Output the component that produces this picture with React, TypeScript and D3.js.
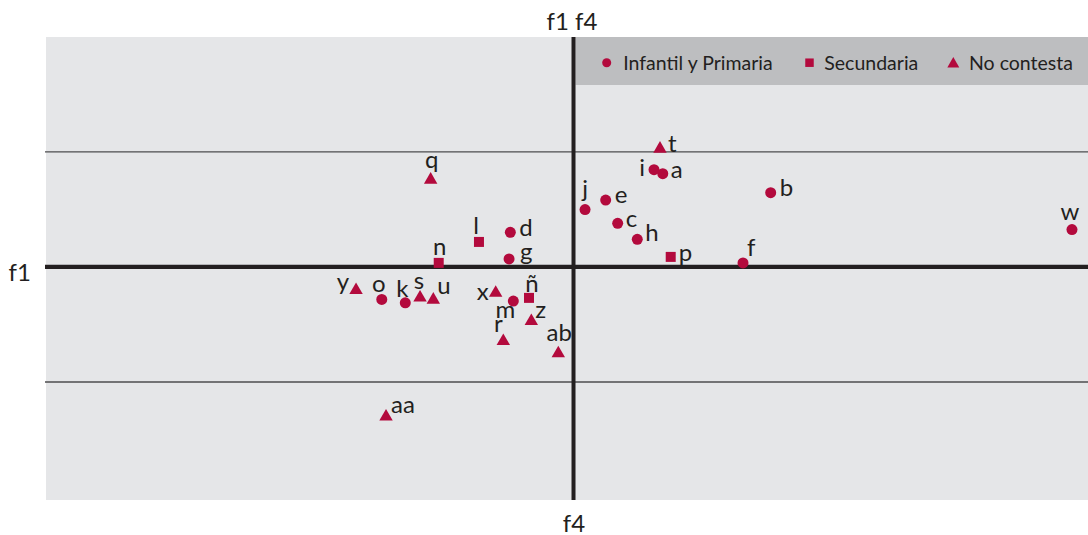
import React from "react";
import * as d3 from "d3";

// ---- data ----
const pointLabels = ["a","b","c","d","e","f","g","h","i","j","k","l","m","n","ñ","o","p","q","r","s","t","u","w","x","y","z","aa","ab"];
const pointX = [0.774,1.710,0.383,-0.548,0.279,1.470,-0.559,0.553,0.698,0.100,-1.459,-0.820,-0.522,-1.169,-0.386,-1.663,0.843,-1.239,-0.609,-1.331,0.750,-1.216,4.323,-0.675,-1.886,-0.366,-1.626,-0.132];
const pointY = [0.810,0.645,0.379,0.301,0.581,0.035,0.069,0.240,0.845,0.498,-0.312,0.217,-0.297,0.035,-0.269,-0.283,0.087,0.757,-0.645,-0.267,1.026,-0.286,0.324,-0.226,-0.202,-0.471,-1.301,-0.752];
const pointGroup = ["IP","IP","IP","IP","IP","IP","IP","IP","IP","IP","IP","S","IP","S","S","IP","S","NC","NC","NC","NC","NC","IP","NC","NC","NC","NC","NC"];
const seriesKeys = ["IP","S","NC"];
const seriesNames = ["Infantil y Primaria","Secundaria","No contesta"];
const gridValues = [-1, 1];

// label placement (layout only)
const labelPlace: Record<string, [string, number, number]> = {
  a: ["start", 8, 4], b: ["start", 9, 3], c: ["start", 8, 4], d: ["start", 9, 4],
  e: ["start", 9, 3], f: ["start", 4, -7], g: ["start", 11, 1], h: ["start", 8, 2],
  i: ["end", -9, 6], j: ["middle", 0, -13], k: ["middle", -3, -6], l: ["middle", -3, -8],
  m: ["middle", -8, 17], n: ["middle", 1, -8], "ñ": ["middle", 3, -6], o: ["middle", -3, -7],
  p: ["start", 8, 4], q: ["middle", 1, -12], r: ["middle", -5, -9], s: ["middle", -1, -9],
  t: ["start", 8, 3], u: ["start", 4, -6], w: ["middle", -2, -10], x: ["end", -7, 7],
  y: ["end", -7, 0], z: ["start", 4, -3], aa: ["start", 5, -4], ab: ["middle", 1, -12],
};

const RED = "#b30a3d";
const INK = "#231f20";
const FONT = "Lato, 'Open Sans', sans-serif";

const symbolFor: Record<string, d3.SymbolType> = {
  IP: d3.symbolCircle,
  S: d3.symbolSquare,
  NC: d3.symbolTriangle,
};
const sizeFor: Record<string, number> = { IP: 95, S: 100, NC: 78 };
const legendSize: Record<string, number> = { IP: 64, S: 72, NC: 62 };

export default function App() {
  const W = 1088, H = 535;
  const left = 46, right = 1088, top = 37, bottom = 500;
  const x = d3.scaleLinear().domain([-4.575, 4.462]).range([left, right]);
  const y = d3.scaleLinear().domain([-2.025, 2]).range([bottom, 36.7]);
  const x0 = x(0), y0 = y(0);

  const legendX = [606.7, 809.5, 953.3];
  const legendTextX = [623.3, 824.3, 969];

  return (
    <svg width={W} height={H} style={{ position: "absolute", left: 0, top: 0, background: "#fff" }} fontFamily={FONT}>
      <rect x={left} y={top} width={right - left} height={bottom - top} fill="#e5e6e8" />
      {/* legend band */}
      <rect x={x0 + 2} y={top} width={right - x0 - 2} height={48} fill="#bdbec0" />
      {gridValues.map((g) => (
        <line key={g} x1={left - 1} x2={right} y1={y(g)} y2={y(g)} stroke="#4d4d4f" strokeWidth={1.3} />
      ))}
      <line x1={left - 1} x2={right} y1={y0} y2={y0} stroke={INK} strokeWidth={4.2} />
      <line x1={x0} x2={x0} y1={top} y2={bottom} stroke={INK} strokeWidth={4} />

      {seriesKeys.map((k, i) => (
        <g key={k}>
          <path d={d3.symbol().type(symbolFor[k]).size(legendSize[k])() || ""} transform={`translate(${legendX[i]},${k === "NC" ? 64 : 62.7})`} fill={RED} />
          <text x={legendTextX[i]} y={69.5} fontSize={19.5} fill={INK}>{seriesNames[i]}</text>
        </g>
      ))}

      {pointLabels.map((lab, i) => {
        const px = x(pointX[i]);
        const py = y(pointY[i]);
        const g = pointGroup[i];
        const [anchor, dx, dy] = labelPlace[lab];
        return (
          <g key={lab}>
            <path d={d3.symbol().type(symbolFor[g]).size(sizeFor[g])() || ""} transform={`translate(${px},${py})`} fill={RED} />
            <text x={px + dx} y={py + dy} textAnchor={anchor} fontSize={24} fill={INK}>{lab}</text>
          </g>
        );
      })}

      <text x={572} y={29.5} textAnchor="middle" fontSize={24} fill={INK}>f1 f4</text>
      <text x={8.5} y={281} fontSize={24} fill={INK}>f1</text>
      <text x={574} y={532} textAnchor="middle" fontSize={24} fill={INK}>f4</text>
    </svg>
  );
}
